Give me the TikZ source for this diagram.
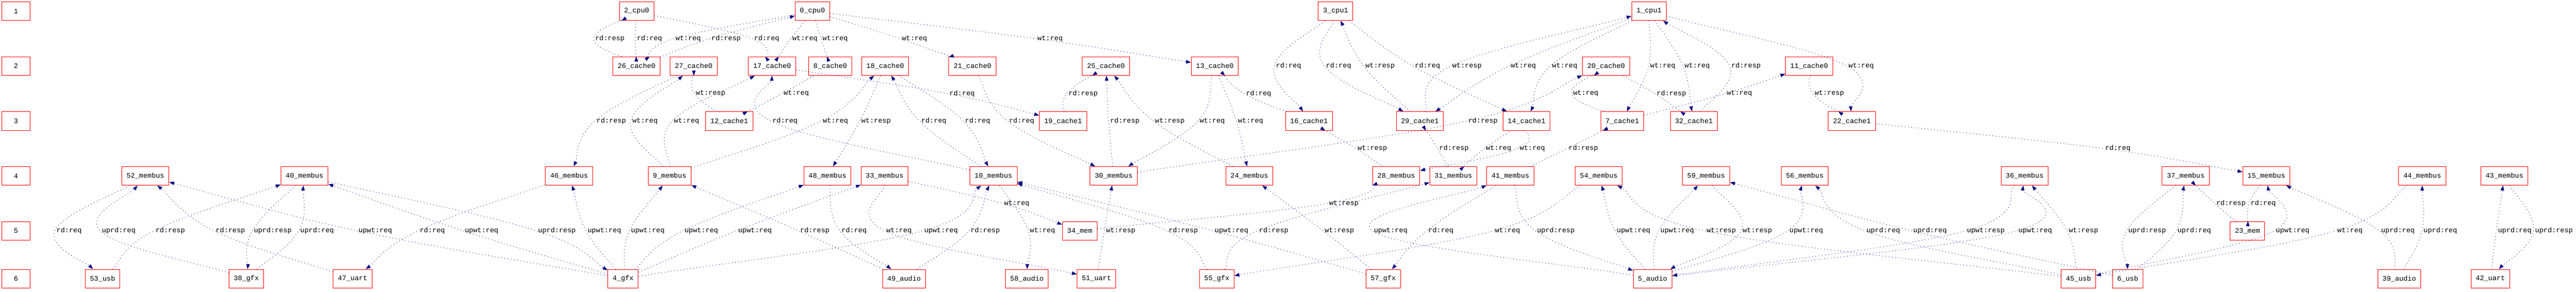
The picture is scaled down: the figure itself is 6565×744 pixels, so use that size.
\documentclass[tikz,border=0pt]{standalone}
\usepackage{fontspec}
\setmonofont{Liberation Mono}
\usetikzlibrary{calc,arrows.meta}
\definecolor{busnavy}{RGB}{0,0,128}
\tikzset{
    unit/.style={draw=red,line width=1.3pt,fill=white,minimum width=73pt,minimum height=47.5pt,inner xsep=12pt,inner ysep=0pt},
    tag/.style={anchor=west,inner sep=0pt},
    flow/.style={busnavy,line width=1.3pt,dash pattern=on 1.3pt off 7pt,-{Triangle[length=12.7pt,width=9pt]}}
}
\newcommand{\edgemsg}[5]{%
  \coordinate (v) at (#3-4,#4);
  \draw[flow] (#1) .. controls ($(#1)!0.33!(v)$) and ($(v)-0.1667*(#2)+0.1667*(#1)$) .. (v)
    .. controls ($(v)+0.1667*(#2)-0.1667*(#1)$) and ($(#2)!0.33!(v)$) .. (#2);
  \node[tag] (l#1#2) at (#3,#4) {#5};}

\begin{document}
\begin{tikzpicture}[x=1pt,y=-1pt,font=\ttfamily\fontsize{17.8}{20}\selectfont]
\fill[white] (0,0) rectangle (6565,744);
\useasboundingbox (0,0) rectangle (6565,744);
\node[unit] (lv1) at (40.7,28.5) {1};
\node[unit] (lv2) at (40.7,168.5) {2};
\node[unit] (lv3) at (40.7,308.5) {3};
\node[unit] (lv4) at (40.7,448.5) {4};
\node[unit] (lv5) at (40.7,588.5) {5};
\node[unit] (lv6) at (40.7,710.5) {6};
\node[unit] (c2) at (1622.5,28.5) {2\_cpu0};
\node[unit] (c0) at (2070.4,28.5) {0\_cpu0};
\node[unit] (c3) at (3403.8,28.5) {3\_cpu1};
\node[unit] (c1) at (4202.5,28.5) {1\_cpu1};
\node[unit] (k26) at (1622.3,168.5) {26\_cache0};
\node[unit] (k27) at (1767.9,168.5) {27\_cache0};
\node[unit] (k17) at (1967.8,168.5) {17\_cache0};
\node[unit] (k8) at (2115.9,168.5) {8\_cache0};
\node[unit] (k18) at (2256,168.5) {18\_cache0};
\node[unit] (k21) at (2478.5,168.5) {21\_cache0};
\node[unit] (k25) at (2818.6,168.5) {25\_cache0};
\node[unit] (k13) at (3096,168.5) {13\_cache0};
\node[unit] (k20) at (4093.2,168.5) {20\_cache0};
\node[unit] (k11) at (4610.6,168.5) {11\_cache0};
\node[unit] (k12) at (1858.5,308.5) {12\_cache1};
\node[unit] (k19) at (2709.2,308.5) {19\_cache1};
\node[unit] (k16) at (3336,308.5) {16\_cache1};
\node[unit] (k29) at (3618.5,308.5) {29\_cache1};
\node[unit] (k14) at (3890.5,308.5) {14\_cache1};
\node[unit] (k7) at (4134.4,308.5) {7\_cache1};
\node[unit] (k32) at (4317,308.5) {32\_cache1};
\node[unit] (k22) at (4719.7,308.5) {22\_cache1};
\node[unit] (b52) at (370.5,448.5) {52\_membus};
\node[unit] (b40) at (776,448.5) {40\_membus};
\node[unit] (b46) at (1450.5,448.5) {46\_membus};
\node[unit] (b9) at (1706.5,448.5) {9\_membus};
\node[unit] (b48) at (2108.7,448.5) {48\_membus};
\node[unit] (b33) at (2254.5,448.5) {33\_membus};
\node[unit] (b10) at (2531.8,448.5) {10\_membus};
\node[unit] (b30) at (2838.2,448.5) {30\_membus};
\node[unit] (b24) at (3184,448.5) {24\_membus};
\node[unit] (b28) at (3558.5,448.5) {28\_membus};
\node[unit] (b31) at (3703.9,448.5) {31\_membus};
\node[unit] (b41) at (3849.3,448.5) {41\_membus};
\node[unit] (b54) at (4074.5,448.5) {54\_membus};
\node[unit] (b59) at (4348,448.5) {59\_membus};
\node[unit] (b56) at (4599.6,448.5) {56\_membus};
\node[unit] (b36) at (5159.8,448.5) {36\_membus};
\node[unit] (b37) at (5570.5,448.5) {37\_membus};
\node[unit] (b15) at (5775.9,448.5) {15\_membus};
\node[unit] (b44) at (6173.2,448.5) {44\_membus};
\node[unit] (b43) at (6382.6,448.5) {43\_membus};
\node[unit] (m34) at (2751.8,588.5) {34\_mem};
\node[unit] (m23) at (5727.8,588.5) {23\_mem};
\node[unit] (d53) at (261.3,710.5) {53\_usb};
\node[unit] (d38) at (627.7,710.5) {38\_gfx};
\node[unit] (d47) at (898.7,710.5) {47\_uart};
\node[unit] (d4) at (1588,710.5) {4\_gfx};
\node[unit] (d49) at (2304,710.5) {49\_audio};
\node[unit] (d58) at (2617,710.5) {58\_audio};
\node[unit] (d51) at (2794.4,710.5) {51\_uart};
\node[unit] (d55) at (3101.1,710.5) {55\_gfx};
\node[unit] (d57) at (3525.2,710.5) {57\_gfx};
\node[unit] (d5) at (4211.6,710.5) {5\_audio};
\node[unit] (d45) at (5297,710.5) {45\_usb};
\node[unit] (d6) at (5422.5,710.5) {6\_usb};
\node[unit] (d39) at (6114.5,710.5) {39\_audio};
\node[unit] (d42) at (6346.6,710.5) {42\_uart};
\edgemsg{b52}{d53}{143.8}{588.5}{rd:req}
\edgemsg{d38}{b52}{259.6}{588.5}{uprd:req}
\edgemsg{d53}{b40}{396.4}{588.5}{rd:resp}
\edgemsg{d47}{b52}{549.5}{588.5}{rd:resp}
\edgemsg{b40}{d38}{647}{588.5}{uprd:resp}
\edgemsg{d38}{b40}{765.2}{588.5}{uprd:req}
\edgemsg{d4}{b52}{913.5}{588.5}{upwt:req}
\edgemsg{b46}{d47}{1069.6}{588.5}{rd:req}
\edgemsg{k26}{c2}{1516.7}{98.7}{rd:resp}
\edgemsg{c2}{k26}{1623}{98.7}{rd:req}
\edgemsg{k27}{b46}{1520.2}{308.5}{rd:resp}
\edgemsg{b9}{k27}{1611.6}{308.5}{wt:req}
\edgemsg{d4}{b40}{1184.5}{588.5}{upwt:req}
\edgemsg{b40}{d4}{1371.1}{588.5}{uprd:resp}
\edgemsg{d4}{b46}{1497.4}{588.5}{upwt:req}
\edgemsg{d4}{b9}{1608}{588.5}{upwt:req}
\edgemsg{c0}{k26}{1721.7}{98.7}{wt:req}
\edgemsg{k26}{c0}{1812.9}{98.7}{rd:resp}
\edgemsg{c2}{k17}{1921.7}{98.7}{rd:req}
\edgemsg{c0}{k17}{2019.2}{98.7}{wt:req}
\edgemsg{c0}{k8}{2096.3}{98.7}{wt:req}
\edgemsg{k12}{k27}{1773.3}{238.7}{wt:resp}
\edgemsg{k8}{k12}{1997}{238.7}{wt:req}
\edgemsg{b9}{k17}{1717.5}{308.5}{wt:req}
\edgemsg{b10}{k17}{1968.3}{308.5}{rd:req}
\edgemsg{b9}{k18}{2097}{308.5}{wt:req}
\edgemsg{d4}{b48}{1744.5}{588.5}{upwt:req}
\edgemsg{d4}{b33}{1881.3}{588.5}{upwt:req}
\edgemsg{d49}{b9}{2039.1}{588.5}{rd:resp}
\edgemsg{b48}{d49}{2144.4}{588.5}{rd:req}
\edgemsg{c0}{k21}{2298.6}{98.7}{wt:req}
\edgemsg{c0}{k13}{2644}{98.7}{wt:req}
\edgemsg{k17}{k19}{2419.6}{238.7}{rd:req}
\edgemsg{k18}{b48}{2195.1}{308.5}{wt:resp}
\edgemsg{b10}{k18}{2347.7}{308.5}{rd:req}
\edgemsg{k18}{b10}{2459.2}{308.5}{rd:req}
\edgemsg{k21}{b30}{2571.4}{308.5}{rd:req}
\edgemsg{b33}{m34}{2559.2}{518.7}{wt:req}
\edgemsg{b33}{d51}{2258.9}{588.5}{wt:req}
\edgemsg{d4}{b10}{2355.4}{588.5}{upwt:req}
\edgemsg{d49}{b10}{2473.2}{588.5}{rd:resp}
\edgemsg{b10}{d58}{2624.7}{588.5}{wt:req}
\edgemsg{k19}{k25}{2722.8}{238.7}{rd:resp}
\edgemsg{b30}{k25}{2829.1}{308.5}{rd:resp}
\edgemsg{b24}{k25}{2943.8}{308.5}{wt:resp}
\edgemsg{k13}{b30}{3057.1}{308.5}{wt:req}
\edgemsg{k13}{b24}{3154.9}{308.5}{wt:req}
\edgemsg{k16}{k13}{3175.3}{238.7}{rd:req}
\edgemsg{d51}{b30}{2818.6}{588.5}{wt:resp}
\edgemsg{d55}{b10}{2978.1}{588.5}{rd:resp}
\edgemsg{d57}{b10}{3095.7}{588.5}{upwt:req}
\edgemsg{d55}{b31}{3208.6}{588.5}{rd:resp}
\edgemsg{c3}{k16}{3251.6}{168.5}{rd:req}
\edgemsg{c3}{k29}{3379.2}{168.5}{rd:req}
\edgemsg{k29}{c3}{3479.6}{168.5}{wt:resp}
\edgemsg{c3}{k14}{3605.8}{168.5}{rd:req}
\edgemsg{k29}{c1}{3701.2}{168.5}{wt:resp}
\edgemsg{c1}{k29}{3850.2}{168.5}{wt:req}
\edgemsg{b30}{k20}{3741.6}{308.5}{rd:resp}
\edgemsg{b28}{k16}{3459.9}{378.7}{wt:resp}
\edgemsg{b31}{k29}{3667.9}{378.7}{rd:resp}
\edgemsg{k14}{b31}{3787}{378.7}{wt:req}
\edgemsg{k14}{b28}{3873}{378.7}{wt:req}
\edgemsg{b41}{k7}{3997.5}{378.7}{rd:resp}
\edgemsg{m34}{b28}{3387.3}{518.7}{wt:resp}
\edgemsg{d57}{b24}{3376}{588.5}{wt:resp}
\edgemsg{d5}{b41}{3501.3}{588.5}{upwt:req}
\edgemsg{b41}{d57}{3639.9}{588.5}{rd:req}
\edgemsg{c1}{k14}{3955.4}{168.5}{wt:req}
\edgemsg{c1}{k7}{4205.5}{168.5}{wt:req}
\edgemsg{c1}{k32}{4293.2}{168.5}{wt:req}
\edgemsg{k7}{k20}{4009}{238.7}{wt:req}
\edgemsg{k20}{k32}{4222}{238.7}{rd:resp}
\edgemsg{k7}{k11}{4400.7}{238.7}{wt:req}
\edgemsg{b54}{d55}{3809.8}{588.5}{wt:req}
\edgemsg{b41}{d5}{3916.8}{588.5}{uprd:resp}
\edgemsg{d5}{b54}{4120.2}{588.5}{upwt:req}
\edgemsg{d5}{b59}{4231.4}{588.5}{upwt:req}
\edgemsg{d45}{b54}{4349.1}{588.5}{wt:resp}
\edgemsg{b59}{d5}{4441}{588.5}{wt:resp}
\edgemsg{d5}{b56}{4560.3}{588.5}{upwt:req}
\edgemsg{d45}{b56}{4756.7}{588.5}{uprd:req}
\edgemsg{k22}{b15}{5365.1}{378.7}{rd:req}
\edgemsg{d6}{b59}{4875.8}{588.5}{uprd:req}
\edgemsg{b36}{d5}{5012.6}{588.5}{upwt:resp}
\edgemsg{d5}{b36}{5144.1}{588.5}{upwt:req}
\edgemsg{d45}{b36}{5272.1}{588.5}{wt:resp}
\edgemsg{m23}{b37}{5648}{518.7}{rd:resp}
\edgemsg{b15}{m23}{5735.6}{518.7}{rd:req}
\edgemsg{b37}{d6}{5423.7}{588.5}{uprd:resp}
\edgemsg{d6}{b37}{5549.2}{588.5}{uprd:req}
\edgemsg{d45}{b15}{5799.9}{588.5}{upwt:req}
\edgemsg{b44}{d45}{5956.8}{588.5}{wt:req}
\edgemsg{d39}{b15}{6068.1}{588.5}{uprd:req}
\edgemsg{d39}{b44}{6176.3}{588.5}{uprd:req}
\edgemsg{d42}{b43}{6365.9}{588.5}{uprd:req}
\edgemsg{b43}{d42}{6460.5}{588.5}{uprd:resp}
\edgemsg{k32}{c1}{4412.2}{168.5}{rd:resp}
\edgemsg{c1}{k22}{4711.1}{168.5}{wt:req}
\edgemsg{k11}{k22}{4624.5}{238.7}{wt:resp}
\end{tikzpicture}
\end{document}
